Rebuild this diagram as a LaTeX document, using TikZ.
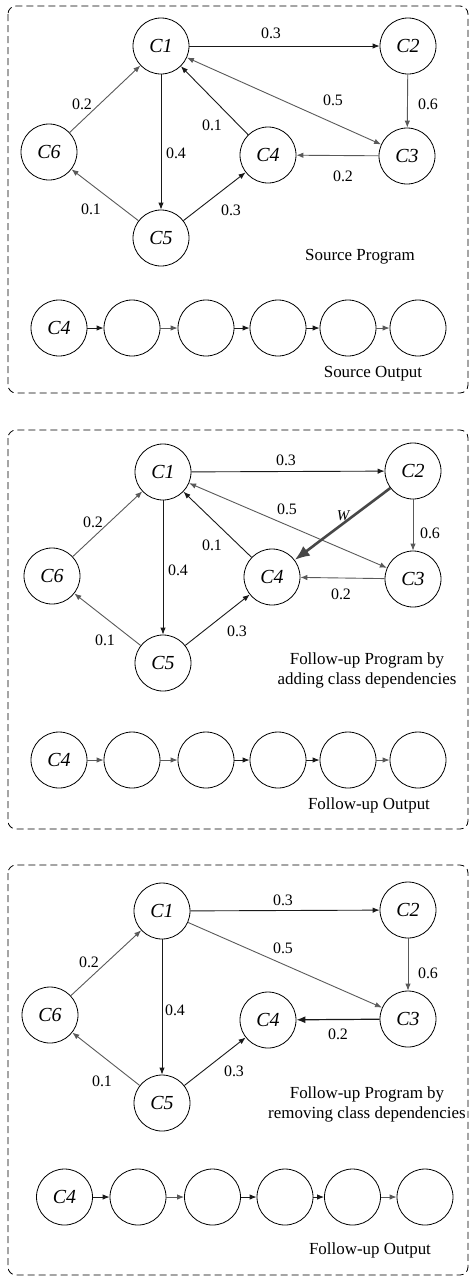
\documentclass[tikz,border=0pt]{standalone}
\usepackage{fontspec}
\setmainfont{Liberation Serif}
\usetikzlibrary{arrows.meta}
\begin{document}
\begin{tikzpicture}[x=1bp,y=-1bp,
  cls/.style={circle,draw,line width=0.8bp,minimum size=56bp,inner sep=0pt,font=\fontsize{20}{22}\selectfont\itshape},
  wt/.style={font=\fontsize{16}{18}\selectfont,inner sep=0pt},
  captxt/.style={font=\fontsize{17}{20}\selectfont,inner sep=0pt,align=center},
  panel/.style={draw,dash pattern=on 7bp off 4bp,rounded corners=8bp,line width=0.8bp},
  ed/.style={-{Latex[length=7bp,width=5.5bp]},line width=0.9bp,draw=black!90},
  eg/.style={ed,draw=black!65},
  edd/.style={{Latex[length=7bp,width=5.5bp]}-{Latex[length=7bp,width=5.5bp]},line width=0.9bp,draw=black!65},
  ew/.style={-{Latex[length=15bp,width=12bp]},line width=2.6bp,draw=black!72}
]
\useasboundingbox (0,0) rectangle (471,1277);

% ---------- Panel 1 ----------
\draw[panel] (8,6) rectangle (468,393);
\node[cls] (a1) at (161,46) {C1};
\node[cls] (a2) at (408,46) {C2};
\node[cls] (a3) at (407,156) {C3};
\node[cls] (a4) at (268,155) {C4};
\node[cls] (a5) at (161,238) {C5};
\node[cls] (a6) at (49,152) {C6};
\draw[ed] (a1) -- (a2);
\draw[eg] (a2) -- (a3);
\draw[edd] (a1) -- (a3);
\draw[eg] (a3) -- (a4);
\draw[ed] (a4) -- (a1);
\draw[ed] (a1) -- (a5);
\draw[ed] (a5) -- (a4);
\draw[eg] (a5) -- (a6);
\draw[eg] (a6) -- (a1);
\node[wt] (la12) at (271,33) {0.3};
\node[wt] (la23) at (428,104) {0.6};
\node[wt] (la13) at (333,100) {0.5};
\node[wt] (la41) at (212,125) {0.1};
\node[wt] (la15) at (176,153) {0.4};
\node[wt] (la34) at (343,176) {0.2};
\node[wt] (la54) at (231,210) {0.3};
\node[wt] (la56) at (91,209) {0.1};
\node[wt] (la61) at (82,104) {0.2};
\node[captxt] (capa) at (360,257) {Source Program};
\node[cls] (p1) at (59,328) {C4};
\node[cls] (p2) at (132,328) {};
\node[cls] (p3) at (206,328) {};
\node[cls] (p4) at (278,328) {};
\node[cls] (p5) at (348,328) {};
\node[cls] (p6) at (418,328) {};
\draw[ed] (p1) -- (p2);
\draw[eg] (p2) -- (p3);
\draw[ed] (p3) -- (p4);
\draw[ed] (p4) -- (p5);
\draw[eg] (p5) -- (p6);
\node[captxt] (capao) at (373,374) {Source Output};

% ---------- Panel 2 ----------
\draw[panel] (8,430) rectangle (468,829);
\node[cls] (b1) at (163,472) {C1};
\node[cls] (b2) at (413,471) {C2};
\node[cls] (b3) at (413,579) {C3};
\node[cls] (b4) at (272,577) {C4};
\node[cls] (b5) at (163,663) {C5};
\node[cls] (b6) at (52,576) {C6};
\draw[ed] (b1) -- (b2);
\draw[eg] (b2) -- (b3);
\draw[edd] (b1) -- (b3);
\draw[ew] (b2) -- (b4);
\draw[eg] (b3) -- (b4);
\draw[ed] (b4) -- (b1);
\draw[ed] (b1) -- (b5);
\draw[ed] (b5) -- (b4);
\draw[eg] (b5) -- (b6);
\draw[eg] (b6) -- (b1);
\node[wt] (lb12) at (286,460) {0.3};
\node[wt] (lb13) at (287,509) {0.5};
\node[wt,font=\fontsize{15}{17}\selectfont\itshape] (lbw) at (343,516) {W};
\node[wt] (lb23) at (430,533) {0.6};
\node[wt] (lb41) at (212,545) {0.1};
\node[wt] (lb15) at (178,570) {0.4};
\node[wt] (lb34) at (341,594) {0.2};
\node[wt] (lb54) at (237,631) {0.3};
\node[wt] (lb56) at (105,640) {0.1};
\node[wt] (lb61) at (93,522) {0.2};
\node[captxt] (capb) at (367,670) {Follow-up Program by\\adding class dependencies};
\node[cls] (q1) at (59,760) {C4};
\node[cls] (q2) at (132,760) {};
\node[cls] (q3) at (206,760) {};
\node[cls] (q4) at (278,760) {};
\node[cls] (q5) at (348,760) {};
\node[cls] (q6) at (418,760) {};
\draw[eg] (q1) -- (q2);
\draw[eg] (q2) -- (q3);
\draw[ed] (q3) -- (q4);
\draw[ed] (q4) -- (q5);
\draw[eg] (q5) -- (q6);
\node[captxt] (capbo) at (369,805) {Follow-up Output};

% ---------- Panel 3 ----------
\draw[panel] (8,865) rectangle (468,1275);
\node[cls] (c1) at (162,911) {C1};
\node[cls] (c2) at (408,910) {C2};
\node[cls] (c3) at (408,1019) {C3};
\node[cls] (c4) at (268,1020) {C4};
\node[cls] (c5) at (162,1103) {C5};
\node[cls] (c6) at (50,1015) {C6};
\draw[ed] (c1) -- (c2);
\draw[eg] (c2) -- (c3);
\draw[eg] (c1) -- (c3);
\draw[ed,line width=1.2bp,-{Latex[length=9bp,width=7bp]}] (c3) -- (c4);
\draw[ed] (c1) -- (c5);
\draw[ed] (c5) -- (c4);
\draw[eg] (c5) -- (c6);
\draw[eg] (c6) -- (c1);
\node[wt] (lc12) at (283,900) {0.3};
\node[wt] (lc13) at (283,948) {0.5};
\node[wt] (lc23) at (428,973) {0.6};
\node[wt] (lc61) at (89,962) {0.2};
\node[wt] (lc15) at (175,1010) {0.4};
\node[wt] (lc34) at (338,1034) {0.2};
\node[wt] (lc54) at (234,1071) {0.3};
\node[wt] (lc56) at (102,1081) {0.1};
\node[captxt] (capc) at (367,1104) {Follow-up Program by\\removing class dependencies};
\node[cls] (r1) at (64.5,1197) {C4};
\node[cls] (r2) at (138,1197) {};
\node[cls] (r3) at (212.5,1197) {};
\node[cls] (r4) at (285,1197) {};
\node[cls] (r5) at (352.5,1197) {};
\node[cls] (r6) at (425,1197) {};
\draw[ed] (r1) -- (r2);
\draw[eg] (r2) -- (r3);
\draw[ed] (r3) -- (r4);
\draw[ed] (r4) -- (r5);
\draw[eg] (r5) -- (r6);
\node[captxt] (capco) at (370,1250) {Follow-up Output};
\end{tikzpicture}
\end{document}
